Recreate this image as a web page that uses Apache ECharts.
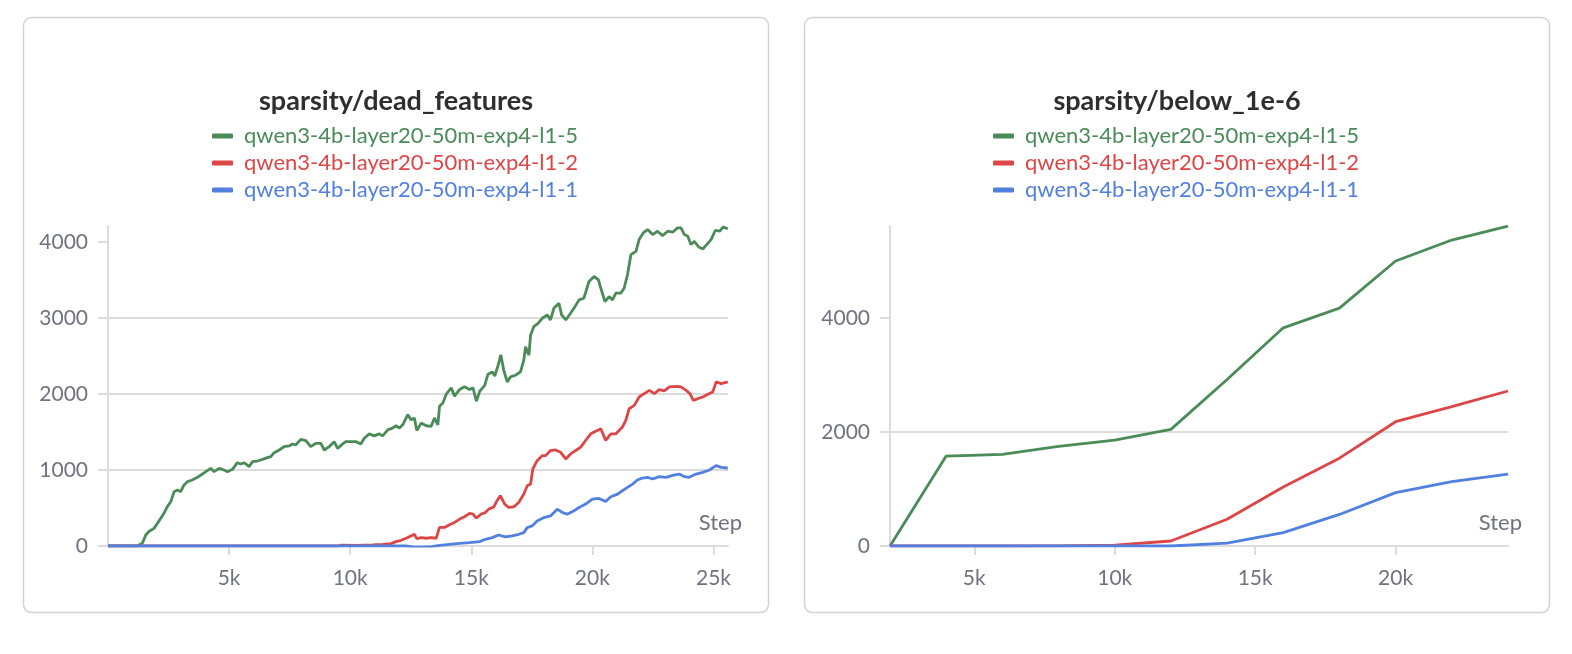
<!DOCTYPE html>
<html><head><meta charset="utf-8">
<script src="https://cdn.jsdelivr.net/npm/echarts@6/dist/echarts.min.js"></script>
<style>html,body{margin:0;padding:0;background:#fff;} #c{width:1572px;height:654px;}</style>
</head><body><div id="c"></div>
<script>
const seriesNames = ['qwen3-4b-layer20-50m-exp4-l1-5','qwen3-4b-layer20-50m-exp4-l1-2','qwen3-4b-layer20-50m-exp4-l1-1'];
const seriesColors = ['#4a8b57','#dc4646','#5180e0'];
const titles = ['sparsity/dead_features','sparsity/below_1e-6'];

// sparsity/dead_features : [step, value]
const deadGreen = [[0,0],[1200,0],[1420,35],[1560,145],[1690,190],[1900,232],[2040,298],[2180,364],[2310,430],[2450,518],[2590,583],[2730,715],[2870,737],[3000,715],[3140,803],[3280,846],[3480,868],[3690,903],[3900,947],[4040,978],[4240,1022],[4380,978],[4590,1022],[4790,1000],[4930,978],[5140,1009],[5340,1096],[5480,1079],[5620,1096],[5830,1044],[5960,1110],[6170,1118],[6380,1140],[6580,1162],[6720,1175],[6860,1228],[7070,1263],[7270,1307],[7480,1316],[7620,1342],[7750,1329],[7960,1403],[8170,1386],[8370,1307],[8580,1351],[8790,1351],[8930,1263],[9130,1307],[9340,1373],[9480,1285],[9680,1340],[9820,1373],[10030,1373],[10230,1373],[10440,1342],[10580,1418],[10790,1475],[10990,1449],[11200,1475],[11340,1449],[11550,1528],[11750,1551],[11890,1582],[12030,1551],[12170,1595],[12380,1728],[12510,1661],[12650,1684],[12750,1520],[12930,1617],[13140,1582],[13340,1573],[13480,1684],[13620,1595],[13690,1839],[13830,1883],[13960,1994],[14170,2082],[14310,1972],[14520,2060],[14720,2096],[14930,2060],[15070,2082],[15210,1905],[15350,2038],[15550,2110],[15690,2260],[15870,2290],[15970,2237],[16100,2370],[16220,2515],[16340,2313],[16480,2159],[16620,2225],[16820,2247],[17030,2291],[17170,2445],[17240,2621],[17380,2511],[17450,2775],[17580,2885],[17760,2930],[17930,2996],[18140,3040],[18270,2974],[18410,3128],[18620,3194],[18730,3040],[18900,2974],[19100,3062],[19240,3128],[19450,3238],[19650,3260],[19860,3480],[20070,3546],[20250,3502],[20390,3348],[20520,3216],[20690,3282],[20830,3238],[20970,3326],[21170,3326],[21310,3392],[21450,3568],[21590,3833],[21800,3877],[21930,4031],[22100,4119],[22280,4163],[22490,4097],[22690,4141],[22900,4084],[23110,4141],[23310,4128],[23520,4185],[23660,4185],[23800,4097],[23940,4075],[24070,3965],[24210,4009],[24390,3934],[24560,3907],[24720,3965],[24900,4031],[25080,4154],[25250,4141],[25410,4198],[25590,4172]];
const deadRed = [[0,0],[9480,0],[9600,10],[10230,9],[10930,13],[11340,22],[11690,31],[11890,58],[12100,75],[12310,102],[12510,133],[12650,155],[12750,97],[12930,111],[13140,102],[13340,111],[13550,102],[13690,244],[13900,244],[14100,279],[14310,310],[14520,354],[14720,385],[14930,430],[15070,421],[15210,368],[15410,421],[15580,440],[15720,485],[15930,515],[16060,595],[16200,661],[16380,551],[16550,507],[16750,515],[16960,573],[17170,683],[17310,793],[17450,815],[17540,1013],[17720,1123],[17930,1189],[18070,1189],[18270,1256],[18480,1264],[18690,1233],[18900,1145],[19100,1211],[19310,1256],[19520,1300],[19720,1388],[19930,1476],[20140,1511],[20350,1542],[20550,1388],[20760,1476],[20970,1476],[21100,1520],[21240,1564],[21380,1652],[21520,1806],[21730,1850],[21930,1960],[22140,2004],[22350,2048],[22560,2004],[22760,2057],[22970,2040],[23180,2093],[23450,2101],[23660,2093],[23870,2048],[24030,2004],[24170,1916],[24350,1938],[24560,1960],[24770,1996],[24970,2026],[25110,2159],[25320,2137],[25590,2159]];
const deadBlue = [[0,0],[12300,0],[12600,-12],[13000,-15],[13350,-8],[13690,9],[14100,22],[14520,35],[14930,44],[15350,58],[15580,88],[15860,110],[16130,145],[16410,119],[16690,132],[16960,154],[17170,176],[17310,242],[17510,264],[17720,330],[18000,374],[18270,396],[18550,485],[18760,441],[18960,419],[19240,463],[19450,507],[19720,551],[20000,617],[20280,626],[20550,586],[20760,648],[21040,683],[21240,727],[21450,771],[21660,815],[21860,868],[22070,894],[22280,903],[22490,881],[22760,912],[23040,903],[23310,930],[23590,947],[23800,912],[24000,903],[24280,947],[24560,969],[24830,1000],[25110,1057],[25320,1035],[25590,1026]];

// sparsity/below_1e-6
const belowSteps = [2000,4000,6000,8000,10000,12000,14000,16000,18000,20000,22000,24000];
const belowGreen = [0,1577,1606,1745,1858,2045,2920,3825,4170,4996,5364,5609];
const belowRed = [0,0,0,3,15,88,470,1035,1540,2179,2442,2717];
const belowBlue = [0,0,0,0,0,0,52,235,553,935,1127,1262];

const deadXTicks = [5000,10000,15000,20000,25000];
const deadYTicks = [0,1000,2000,3000,4000];
const belowXTicks = [5000,10000,15000,20000];
const belowYTicks = [0,2000,4000];

const FONT = 'Lato';
const labelColor = '#6f7380';
const gridColor = '#dcdcdc';

function xAxis(gridIndex, min, max, ticks) {
  return {type:'value', gridIndex, min, max, name:'Step', nameLocation:'end', nameGap:14,
    nameTextStyle:{color:labelColor, fontFamily:FONT, fontSize:22, align:'right', verticalAlign:'bottom', padding:[0,0,12,0]},
    axisLine:{show:true, lineStyle:{color:gridColor, width:2}},
    axisTick:{show:true, length:9, lineStyle:{color:gridColor, width:2}, customValues:ticks},
    axisLabel:{customValues:ticks, formatter:v => (v/1000)+'k', color:labelColor, fontFamily:FONT, fontSize:21, margin:22},
    splitLine:{show:false}};
}
function yAxis(gridIndex, max, ticks) {
  return {type:'value', gridIndex, min:0, max,
    axisLine:{show:true, onZero:false, lineStyle:{color:gridColor, width:2}},
    axisTick:{show:true, length:10, lineStyle:{color:gridColor, width:2}, customValues:ticks},
    axisLabel:{customValues:ticks, formatter:v => String(v), color:labelColor, fontFamily:FONT, fontSize:21, margin:20},
    splitLine:{show:true, showMaxLine:false, lineStyle:{color:gridColor, width:2}}};
}
function legend(left) {
  return {left, top:120, orient:'vertical', itemGap:5, itemWidth:21, itemHeight:5, icon:'roundRect', selectedMode:false,
    data: seriesNames.map((n,i)=>({name:n, textStyle:{color:seriesColors[i]}})),
    textStyle:{fontFamily:FONT, fontSize:22, padding:[0,0,0,6]}};
}
function line(name, color, data, xi, yi) {
  return {type:'line', name, data, xAxisIndex:xi, yAxisIndex:yi, showSymbol:false, symbol:'none',
    lineStyle:{color, width:2.8}, itemStyle:{color}, smooth:false};
}
const belowPairs = arr => belowSteps.map((s,i)=>[s,arr[i]]);

const chart = echarts.init(document.getElementById('c'), null, {renderer:'canvas'});
chart.setOption({
  animation:false,
  backgroundColor:'#ffffff',
  graphic:[
    {type:'rect', shape:{x:23.5, y:17.5, width:745, height:595, r:8}, style:{fill:null, stroke:'#d2d2d2', lineWidth:1.5}},
    {type:'rect', shape:{x:804.5, y:17.5, width:745, height:595, r:8}, style:{fill:null, stroke:'#d2d2d2', lineWidth:1.5}},
    {type:'text', x:396, y:101, style:{text:titles[0], textAlign:'center', textVerticalAlign:'middle', font:'bold 27px Lato', fill:'#2e2e2e'}},
    {type:'text', x:1177, y:101, style:{text:titles[1], textAlign:'center', textVerticalAlign:'middle', font:'bold 27px Lato', fill:'#2e2e2e'}}
  ],
  legend:[legend(207), legend(988)],
  grid:[
    {left:108, top:226, width:620, height:320},
    {left:890, top:226, width:618, height:320}
  ],
  xAxis:[xAxis(0, 0, 25600, deadXTicks), xAxis(1, 2000, 24000, belowXTicks)],
  yAxis:[yAxis(0, 4210, deadYTicks), yAxis(1, 5610, belowYTicks)],
  series:[
    line(seriesNames[0], seriesColors[0], deadGreen, 0, 0),
    line(seriesNames[1], seriesColors[1], deadRed, 0, 0),
    line(seriesNames[2], seriesColors[2], deadBlue, 0, 0),
    line(seriesNames[0], seriesColors[0], belowPairs(belowGreen), 1, 1),
    line(seriesNames[1], seriesColors[1], belowPairs(belowRed), 1, 1),
    line(seriesNames[2], seriesColors[2], belowPairs(belowBlue), 1, 1)
  ]
});
</script></body></html>
